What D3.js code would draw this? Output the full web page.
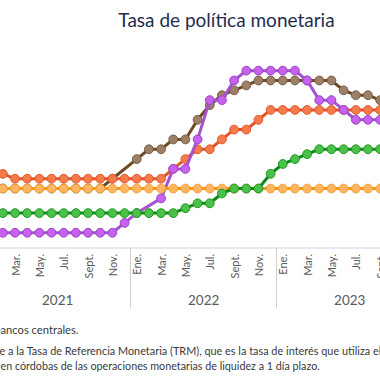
<!DOCTYPE html>
<html>
<head>
<meta charset="utf-8">
<script src="https://cdn.jsdelivr.net/npm/d3@7"></script>
<style>
  html, body { margin: 0; padding: 0; background: #ffffff; }
  svg { display: block; }
  text { font-family: "Lato", "Noto Sans", sans-serif; }
</style>
</head>
<body>
<div id="chart"></div>
<script>
// ---- data (monthly, Jan 2021 .. Sep 2023); null = no observation shown ----
const years = [2021, 2022, 2023];
const monthNames = ["Ene.", "Feb.", "Mar.", "Abr.", "May.", "Jun.", "Jul.", "Ago.", "Sept.", "Oct.", "Nov.", "Dic."];
const monthsShown = 33; // Jan 2021 .. Sep 2023
const tickMonths = ["Ene.", "Mar.", "May.", "Jul.", "Sept.", "Nov."];

const seriesBrown = [3.0,3.0,3.0,3.0,3.0,3.0,3.0,3.0,3.0,3.0,3.5,null,
                     4.5,5.0,5.0,5.5,5.5,6.5,7.25,7.75,8.0,8.25,8.5,8.5,
                     8.5,8.5,8.5,8.5,8.5,8.0,7.75,7.75,7.5];
const seriesRed   = [3.75,3.75,3.5,3.5,3.5,3.5,3.5,3.5,3.5,3.5,3.5,3.5,
                     3.5,3.5,3.5,4.0,4.5,5.0,5.0,5.5,6.0,6.0,6.5,7.0,
                     7.0,7.0,7.0,7.0,7.0,7.0,7.0,7.0,7.0];
const seriesPurple= [0.75,0.75,0.75,0.75,0.75,0.75,0.75,0.75,0.75,0.75,0.75,1.25,
                     1.75,null,2.5,4.0,4.0,5.5,7.5,7.5,8.5,9.0,9.0,9.0,
                     9.0,9.0,8.5,7.5,7.5,7.0,6.5,6.5,6.5];
const seriesOrange= [3.0,3.0,3.0,3.0,3.0,3.0,3.0,3.0,3.0,3.0,3.0,3.0,
                     3.0,3.0,3.0,3.0,3.0,3.0,3.0,3.0,3.0,3.0,3.0,3.0,
                     3.0,3.0,3.0,3.0,3.0,3.0,3.0,3.0,3.0];
const seriesGreen = [1.75,1.75,1.75,1.75,1.75,1.75,1.75,1.75,1.75,1.75,1.75,1.75,
                     1.75,1.75,1.75,1.75,2.0,2.25,2.25,2.75,3.0,3.0,3.0,3.75,
                     4.25,4.5,4.75,5.0,5.0,5.0,5.0,5.0,5.0];

const titleText = "Tasa de política monetaria";
const note1 = "Fuente: bancos centrales.";
const note2 = "Nota: la tasa de Nicaragua corresponde a la Tasa de Referencia Monetaria (TRM), que es la tasa de interés que utiliza el BCN";
const note3 = "en córdobas de las operaciones monetarias de liquidez a 1 día plazo.";

// ---- build ----
const W = 380, H = 380;
const keys = d3.range(monthsShown).map(i => `${years[Math.floor(i/12)]}-${i%12}`);
const monthOf = k => +k.split("-")[1];
const yearOf = k => +k.split("-")[0];

const step = 12.17;
const x = d3.scalePoint().domain(keys).range([-9.3, -9.3 + step * (keys.length - 1)]);
const y = d3.scaleLinear().domain([0, 10]).range([247.5, 51]);

const svg = d3.select("#chart").append("svg").attr("width", W).attr("height", H);

// title
svg.append("text").attr("x", 226.5).attr("y", 27).attr("text-anchor", "middle")
  .attr("font-size", 19).attr("fill", "#1f2d4d").text(titleText);

// axis base line
svg.append("line").attr("x1", 0).attr("x2", W).attr("y1", 248).attr("y2", 248)
  .attr("stroke", "#d4d4d4").attr("stroke-width", 1);

// year separators
years.slice(1).forEach(yr => {
  const kDec = `${yr-1}-11`, kJan = `${yr}-0`;
  if (x(kJan) === undefined) return;
  const sx = Math.round((x(kDec) + x(kJan)) / 2) - 0.5;
  svg.append("line").attr("x1", sx).attr("x2", sx).attr("y1", 248).attr("y2", 308)
    .attr("stroke", "#cfcfcf").attr("stroke-width", 1);
});

// month tick labels
const tickKeys = keys.filter(k => tickMonths.includes(monthNames[monthOf(k)]));
const axis = d3.axisBottom(x).tickValues(tickKeys).tickSize(0).tickPadding(0)
  .tickFormat(k => monthNames[monthOf(k)]);
const gx = svg.append("g").attr("transform", "translate(0,254)").call(axis);
gx.select(".domain").remove();
gx.selectAll("text")
  .attr("transform", "rotate(-90)")
  .attr("text-anchor", "end")
  .attr("x", 0).attr("y", 0).attr("dy", "0.36em")
  .attr("font-size", 11).attr("fill", "#5a5a5a")
  .style("font-family", "Lato, 'Noto Sans', sans-serif");

// year labels
years.forEach(yr => {
  const xs = keys.filter(k => yearOf(k) === yr).map(x);
  const first = x(`${yr}-0`) !== undefined ? x(`${yr}-0`) : xs[0] - step * (12 - xs.length);
  const last = first + step * 11;
  svg.append("text").attr("x", (first + last) / 2).attr("y", 305)
    .attr("text-anchor", "middle").attr("font-size", 13.5).attr("fill", "#5a5a5a").text(yr);
});

// series
const series = [
  { values: seriesBrown,  line: "#6b4a25", fill: "#9c8068", stroke: "#7a5d43" },
  { values: seriesRed,    line: "#e4522a", fill: "#f67b4b", stroke: "#e3592f" },
  { values: seriesPurple, line: "#a452cf", fill: "#c762ee", stroke: "#9a43c2" },
  { values: seriesOrange, line: "#f5960c", fill: "#fdb55f", stroke: "#f4a13a" },
  { values: seriesGreen,  line: "#0d8c13", fill: "#4bc04a", stroke: "#1f9a21" }
];
const lineGen = d3.line().x(d => x(d.k)).y(d => y(d.v));
series.forEach(s => {
  const pts = s.values.map((v, i) => ({ k: keys[i], v })).filter(d => d.v != null);
  const g = svg.append("g");
  g.append("path").datum(pts).attr("d", lineGen).attr("fill", "none")
    .attr("stroke", s.line).attr("stroke-width", 3).attr("stroke-linejoin", "round");
  g.selectAll("circle").data(pts).join("circle")
    .attr("cx", d => x(d.k)).attr("cy", d => y(d.v)).attr("r", 4.4)
    .attr("fill", s.fill).attr("stroke", s.stroke).attr("stroke-width", 1);
});

// notes
const n1 = svg.append("text").attr("y", 334).attr("font-size", 11.2).attr("fill", "#3a3a3a").text(note1);
const i1 = note1.indexOf("ancos");
n1.attr("x", -n1.node().getSubStringLength(0, i1) + 0.5);
const n2 = svg.append("text").attr("y", 355).attr("font-size", 10.9).attr("fill", "#3a3a3a").text(note2);
const i2 = note2.indexOf("e a la Tasa");
n2.attr("x", -n2.node().getSubStringLength(0, i2) - 0.5);
svg.append("text").attr("x", 0.5).attr("y", 370).attr("font-size", 10.75).attr("fill", "#3a3a3a").text(note3);
</script>
</body>
</html>
